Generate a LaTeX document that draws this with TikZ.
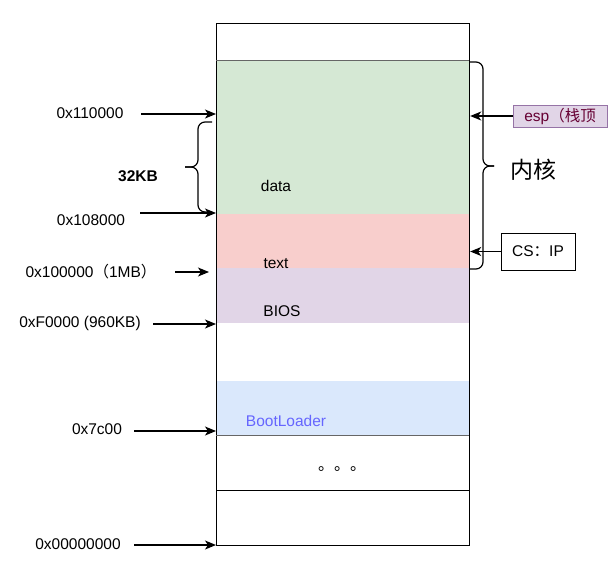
\documentclass[tikz,border=0pt]{standalone}
\usepackage{fontspec}
\setmainfont{Liberation Sans}
\newfontfamily\cjk{Noto Sans CJK SC}
\usepackage{tikz}
\usetikzlibrary{arrows.meta}
\definecolor{segG}{HTML}{D5E8D4}
\definecolor{segR}{HTML}{F8CECC}
\definecolor{segP}{HTML}{E1D5E7}
\definecolor{segB}{HTML}{DAE8FC}
\definecolor{espline}{HTML}{9673A6}
\definecolor{esptxt}{HTML}{660033}
\definecolor{bootxt}{HTML}{6666FF}
\tikzset{
  mem/.style={x=1pt, y=-1pt, >={Stealth[length=11pt, width=9pt, inset=3pt]},
              every node/.style={font=\fontsize{15.5}{18}\selectfont, inner sep=0pt}},
  seg/.style={draw=none, anchor=north west, minimum width=253},
  addr/.style={anchor=base},
  ptr/.style={->, line width=1.2pt},
  brc/.style={line width=1.2pt, rounded corners=7pt},
  tagbox/.style={draw, line width=1pt, inner sep=0pt}
}
\newcommand{\lpar}{{\cjk （}}
\newcommand{\rpar}{{\cjk ）}}

\begin{document}
\begin{tikzpicture}[mem]
\useasboundingbox (0,0) rectangle (612,574);
% column
\node[seg, fill=segG, minimum height=154] (kdata) at (216,60) {};
\node[seg, fill=segR, minimum height=54] (ktext) at (216,214) {};
\node[seg, fill=segP, minimum height=55] (bios) at (216,268) {};
\node[seg, fill=segB, minimum height=54] (boot) at (216,381) {};
\node[draw, line width=1.2pt, anchor=north west, minimum width=253, minimum height=522] (col) at (216,23) {};
\draw[gray!80!black, line width=1pt] (216,60) -- (469,60) (216,435) -- (469,435);
\draw[line width=1pt] (216,490) -- (469,490);
\node[addr] (ldata) at (276,191) {data};
\node[addr] (ltext) at (276,268) {text};
\node[addr] (lbios) at (282,316) {BIOS};
\node[addr, text=bootxt] (lboot) at (286,426) {BootLoader};
\node[anchor=base west, font=\cjk\fontsize{16}{18}\selectfont] (dots) at (318,470) {。。。};
% addresses
\node[addr] (a110) at (90,118) {0x110000};
\node[addr] (a108) at (91,225) {0x108000};
\node[addr] (a100) at (91,277) {0x100000\lpar 1MB\rpar};
\node[addr] (af00) at (80,327) {0xF0000 (960KB)};
\node[addr] (a7c) at (97,434) {0x7c00};
\node[addr] (a00) at (78,549) {0x00000000};
\node[addr, font=\bfseries\fontsize{15.5}{18}\selectfont] (k32) at (138,181) {32KB};
\coordinate (t110) at (141,114);
\coordinate (t108) at (140,213);
\coordinate (t100) at (175,272);
\coordinate (tf00) at (153,324);
\coordinate (t7c) at (134,431);
\coordinate (t00) at (134,545);
\draw[ptr] (t110) -- (t110 -| col.west);
\draw[ptr] (t108) -- (t108 -| col.west);
\draw[ptr, shorten >=7pt] (t100) -- (t100 -| col.west);
\draw[ptr] (tf00) -- (tf00 -| col.west);
\draw[ptr] (t7c) -- (t7c -| col.west);
\draw[ptr] (t00) -- (t00 -| col.west);
% braces
\draw[brc] (212,122) -| (198,167) -- (185,167);
\draw[brc] (212,212) -| (198,167) -- (185,167);
\draw[brc] (470,62) -| (483,166) -- (494,166);
\draw[brc] (470,269) -| (483,166) -- (494,166);
\node (kern) at (533,170) {\cjk\fontsize{23}{26}\selectfont 内核};
% pointers
\node[tagbox, draw=espline, fill=segP, text=esptxt, minimum width=94, minimum height=22] (esp) at (560,116) {esp\lpar{\cjk 栈顶}};
\node[tagbox, minimum width=74, minimum height=37] (csip) at (538,251.5) {CS{\cjk ：}IP};
\draw[ptr] (esp.west) -- (esp.west -| col.east);
\draw[ptr] (csip.west) -- (csip.west -| col.east);
\end{tikzpicture}
\end{document}
